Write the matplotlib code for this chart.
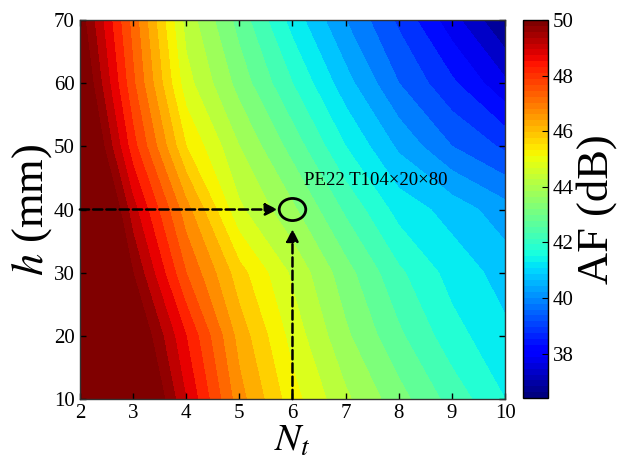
import numpy as np
import matplotlib
matplotlib.use("Agg")
import matplotlib.pyplot as plt
from matplotlib.patches import Ellipse
from matplotlib.colors import Normalize

plt.rcParams['font.family'] = ['Liberation Serif', 'DejaVu Serif']
plt.rcParams['mathtext.fontset'] = 'stix'

# grid
Nt = [2, 3, 4, 5, 6, 7, 8, 9, 10]
h = [10, 20, 30, 40, 50, 60, 70]
# AF (dB), one row per h value
AF = [
    [54.0, 51.5, 49.0, 46.7, 45.2, 44.1, 43.2, 42.3, 41.5],
    [54.0, 50.8, 48.5, 46.3, 44.8, 43.6, 42.6, 41.7, 41.1],
    [53.0, 50.0, 47.5, 45.7, 44.4, 43.2, 42.1, 41.3, 40.8],
    [52.5, 49.2, 46.7, 44.6, 43.6, 42.4, 41.3, 40.8, 40.2],
    [51.5, 48.2, 45.5, 44.0, 42.8, 41.5, 40.4, 39.5, 38.9],
    [50.8, 47.6, 44.7, 43.3, 42.0, 40.7, 39.5, 38.6, 37.6],
    [50.3, 47.3, 44.3, 42.8, 41.3, 40.0, 38.9, 37.7, 36.5],
]
vmin, vmax = 36.4, 50.0

design_Nt, design_h = 6, 40
design_label = 'PE22 T104\u00d720\u00d780'

fig = plt.figure(figsize=(6.19, 4.74), dpi=100)
ax = fig.add_axes([0.129, 0.158, 0.687, 0.800])
cax = fig.add_axes([0.845, 0.160, 0.040, 0.798])

norm = Normalize(vmin=vmin, vmax=vmax)
levels = np.arange(36.5, 50.01, 0.5)
X, Y = np.meshgrid(Nt, h)
cs = ax.contourf(X, Y, np.array(AF), levels=levels, cmap='jet', norm=norm, extend='both')

ax.set_xlim(2, 10)
ax.set_ylim(10, 70)
ax.set_xticks(range(2, 11))
ax.set_yticks(range(10, 71, 10))
ax.tick_params(direction='in', top=True, right=True, labelsize=15, length=4, width=1)
for s in ax.spines.values():
    s.set_linewidth(1)
    s.set_color('#333333')

ax.set_xlabel('$N_t$', fontsize=28, labelpad=0)
ax.set_ylabel('$h$ (mm)', fontsize=32, labelpad=0)

# design point marker and guide arrows
ax.add_patch(Ellipse((design_Nt, design_h), 0.5, 3.5, fill=False, lw=2, color='black', zorder=5))
ax.annotate('', xy=(5.72, design_h), xytext=(2, design_h),
            arrowprops=dict(arrowstyle='-|>', color='black', lw=1.8, ls='--',
                            mutation_scale=18, shrinkA=0, shrinkB=0))
ax.annotate('', xy=(design_Nt, 36.9), xytext=(design_Nt, 10),
            arrowprops=dict(arrowstyle='-|>', color='black', lw=1.8, ls='--',
                            mutation_scale=18, shrinkA=0, shrinkB=0))
ax.text(6.22, 43.3, design_label, fontsize=13.5, ha='left', va='bottom')

sm = plt.cm.ScalarMappable(norm=norm, cmap=plt.get_cmap('jet', 64))
cb = fig.colorbar(sm, cax=cax)
cb.set_ticks(range(38, 51, 2))
cb.ax.tick_params(direction='in', labelsize=15, length=4)
cb.outline.set_linewidth(1)
cb.set_label('AF (dB)', fontsize=32, labelpad=2)

fig.savefig('out.png', dpi=100)
